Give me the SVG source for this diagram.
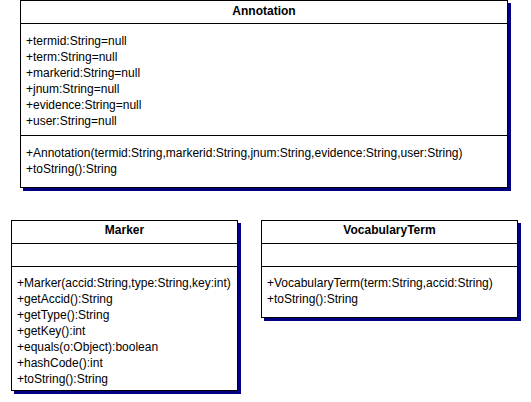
<svg xmlns="http://www.w3.org/2000/svg" width="531" height="402" viewBox="0 0 531 402">
<style>
.box{fill:#fff;stroke:#000;stroke-width:1}
.shadow{fill:#000080}
.sep{stroke:#000;stroke-width:1}
text{font-family:"Liberation Sans",Arial,sans-serif;font-size:12px;fill:#000}
.title{font-weight:bold;text-anchor:middle}
</style>
<rect width="531" height="402" fill="#fff"/>
<g id="Annotation">
<rect class="shadow" x="23" y="3" width="488" height="188"/>
<rect class="box" x="20.5" y="0.5" width="487" height="187"/>
<line class="sep" x1="20.5" y1="23.5" x2="507.5" y2="23.5"/>
<line class="sep" x1="20.5" y1="135.5" x2="507.5" y2="135.5"/>
<text class="title" x="264" y="15">Annotation</text>
<text x="26" y="45">+termid:String=null</text>
<text x="26" y="61">+term:String=null</text>
<text x="26" y="77">+markerid:String=null</text>
<text x="26" y="93">+jnum:String=null</text>
<text x="26" y="109">+evidence:String=null</text>
<text x="26" y="125">+user:String=null</text>
<text x="26" y="157">+Annotation(termid:String,markerid:String,jnum:String,evidence:String,user:String)</text>
<text x="26" y="173">+toString():String</text>
</g>
<g id="Marker">
<rect class="shadow" x="14" y="223" width="227" height="171"/>
<rect class="box" x="11.5" y="220.5" width="226" height="170"/>
<line class="sep" x1="11.5" y1="243.5" x2="237.5" y2="243.5"/>
<line class="sep" x1="11.5" y1="266.5" x2="237.5" y2="266.5"/>
<text class="title" x="124.5" y="234">Marker</text>
<text x="17" y="287">+Marker(accid:String,type:String,key:int)</text>
<text x="17" y="303">+getAccid():String</text>
<text x="17" y="319">+getType():String</text>
<text x="17" y="335">+getKey():int</text>
<text x="17" y="351">+equals(o:Object):boolean</text>
<text x="17" y="367">+hashCode():int</text>
<text x="17" y="383">+toString():String</text>
</g>
<g id="VocabularyTerm">
<rect class="shadow" x="264" y="223" width="257" height="98"/>
<rect class="box" x="261.5" y="220.5" width="256" height="97"/>
<line class="sep" x1="261.5" y1="243.5" x2="517.5" y2="243.5"/>
<line class="sep" x1="261.5" y1="266.5" x2="517.5" y2="266.5"/>
<text class="title" x="389.5" y="234">VocabularyTerm</text>
<text x="267" y="287">+VocabularyTerm(term:String,accid:String)</text>
<text x="267" y="303">+toString():String</text>
</g>
<g id="connectors"></g>
</svg>
